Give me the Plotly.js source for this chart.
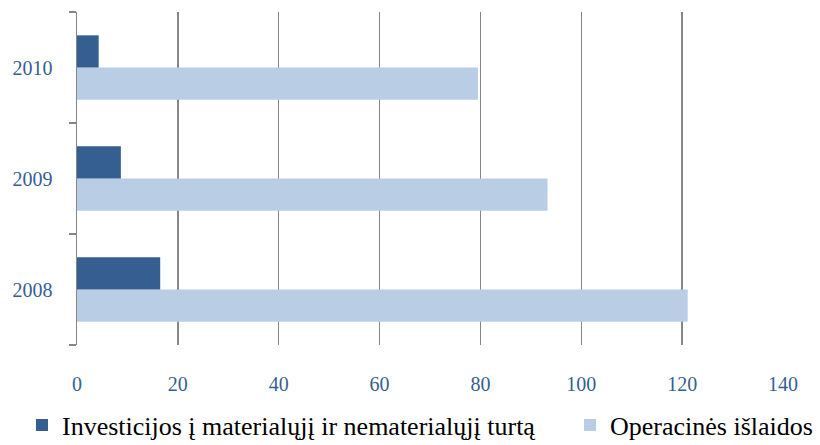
<!DOCTYPE html>
<html>
<head>
<meta charset="utf-8">
<script src="https://cdn.plot.ly/plotly-3.0.1.min.js"></script>
<style>html,body{margin:0;padding:0;background:#fff}#chart{width:820px;height:445px}</style>
</head>
<body>
<div id="chart"></div>
<script>
const years = ["2008", "2009", "2010"];
const investicijos = [16.5, 8.7, 4.3];
const operacines = [121.1, 93.3, 79.5];
const seriesNames = ["Investicijos į materialųjį ir nematerialųjį turtą", "Operacinės išlaidos"];
const xTicks = [0, 20, 40, 60, 80, 100, 120, 140];

const serif = "Liberation Serif";
const traces = [
  {type: "bar", orientation: "h", name: seriesNames[1], y: years, x: operacines,
   marker: {color: "#b9cde5"}, hoverinfo: "x", legend: "legend2"},
  {type: "bar", orientation: "h", name: seriesNames[0], y: years, x: investicijos,
   marker: {color: "#365f91"}, hoverinfo: "x", legend: "legend"}
];
const legendBase = {orientation: "h", xref: "container", yref: "container",
  y: 20 / 445, xanchor: "left", yanchor: "middle", bgcolor: "rgba(0,0,0,0)",
  font: {family: serif, size: 26, color: "#000"}, itemclick: false, itemdoubleclick: false};
const layout = {
  width: 820, height: 445,
  margin: {l: 77, r: 37, t: 12, b: 100},
  paper_bgcolor: "#fff", plot_bgcolor: "#fff",
  barmode: "group", bargap: 0.42, bargroupgap: 0,
  font: {family: serif, size: 20, color: "#365f91"},
  xaxis: {range: [0, 140], tickvals: xTicks, ticktext: xTicks.map(String),
          showgrid: true, gridcolor: "#868686", gridwidth: 1.5, zeroline: false,
          showline: false, ticks: "", ticklabelstandoff: 25,
          tickfont: {family: serif, size: 20, color: "#365f91"}, fixedrange: true},
  yaxis: {type: "category", categoryorder: "array", categoryarray: years,
          showline: true, linecolor: "#868686", linewidth: 1.5,
          ticks: "outside", tickson: "boundaries", ticklen: 7, tickcolor: "#868686", tickwidth: 1.5,
          showgrid: false, zeroline: false, ticklabelstandoff: 19,
          tickfont: {family: serif, size: 20, color: "#365f91"}, fixedrange: true},
  showlegend: true,
  legend: Object.assign({}, legendBase, {x: 22 / 820}),
  legend2: Object.assign({}, legendBase, {x: 570 / 820})
};
Plotly.newPlot("chart", traces, layout, {displayModeBar: false, staticPlot: true});
</script>
</body>
</html>
